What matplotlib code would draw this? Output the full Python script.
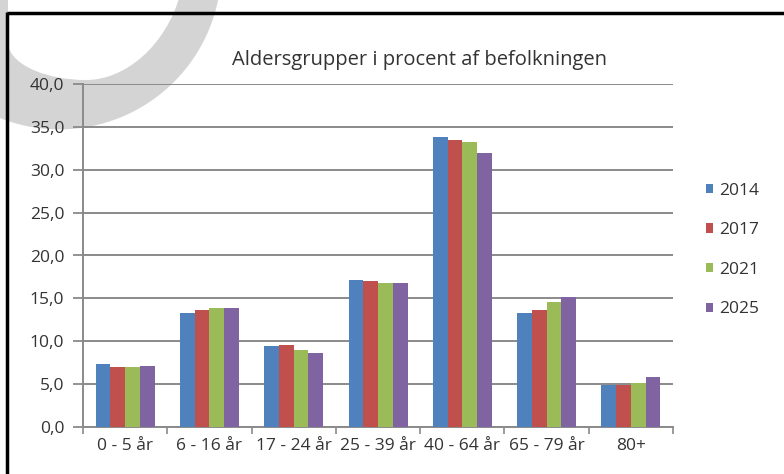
import matplotlib
matplotlib.use("Agg")
import matplotlib.pyplot as plt
import numpy as np
from matplotlib.patches import Circle, PathPatch, Patch
from matplotlib.path import Path

categories = ["0 - 5 år", "6 - 16 år", "17 - 24 år", "25 - 39 år", "40 - 64 år", "65 - 79 år", "80+"]
years = ["2014", "2017", "2021", "2025"]
v2014 = [7.4, 13.3, 9.5, 17.1, 33.8, 13.3, 4.9]
v2017 = [7.0, 13.6, 9.6, 17.0, 33.5, 13.6, 4.9]
v2021 = [7.0, 13.9, 9.0, 16.8, 33.2, 14.6, 5.1]
v2025 = [7.1, 13.9, 8.6, 16.8, 31.9, 15.2, 5.8]
series = [v2014, v2017, v2021, v2025]
colors = ["#4F81BD", "#C0504D", "#9BBB59", "#8064A2"]
yticks = [0, 5, 10, 15, 20, 25, 30, 35, 40]
title = "Aldersgrupper i procent af befolkningen"

plt.rcParams['font.family'] = ['Open Sans', 'DejaVu Sans']
txt = "#333333"

W, H = 784, 474
fig = plt.figure(figsize=(W / 100, H / 100), dpi=100)
fig.patch.set_facecolor("white")

# background overlay in pixel coordinates (watermark ring + frame)
bg = fig.add_axes([0, 0, 1, 1], zorder=0)
bg.set_xlim(0, W)
bg.set_ylim(H, 0)
bg.axis("off")
bg.add_patch(Circle((59.4, -32.6), 162, facecolor="#d4d4d4", edgecolor="none"))
verts = [(180, -5), (166, 45), (126, 80), (86, 80),
         (48, 80), (12, 66), (8, 45),
         (8, -5), (180, -5)]
codes = [Path.MOVETO, Path.CURVE4, Path.CURVE4, Path.CURVE4,
         Path.CURVE4, Path.CURVE4, Path.CURVE4,
         Path.LINETO, Path.CLOSEPOLY]
bg.add_patch(PathPatch(Path(verts, codes), facecolor="white", edgecolor="none"))
bg.plot([7, W], [12.5, 12.5], color="black", lw=2.5, solid_capstyle="butt")
bg.plot([7.5, 7.5], [11.5, H], color="black", lw=2.5, solid_capstyle="butt")

L, R, T, B = 83, 673, 84, 427
ax = fig.add_axes([L / W, 1 - B / H, (R - L) / W, (B - T) / H], zorder=2)
ax.set_facecolor("none")

x = np.arange(len(categories))
bw = 0.175
for i, (vals, c, yr) in enumerate(zip(series, colors, years)):
    ax.bar(x + (i - 1.5) * bw, vals, width=bw, color=c, label=yr, zorder=3)

ax.set_ylim(0, 40)
ax.set_xlim(-0.5, len(categories) - 0.5)
ax.set_yticks(yticks)
ax.set_yticklabels([f"{v:.1f}".replace(".", ",") for v in yticks], color=txt, fontsize=12.5)
ax.yaxis.grid(True, color="#8a8a8a", lw=1.4, zorder=0)
ax.set_axisbelow(True)
ax.tick_params(axis="y", length=7.5, width=1.3, color="#8a8a8a", pad=6)

ax.set_xticks(x)
ax.set_xticklabels(categories, color=txt, fontsize=12.5)
ax.set_xticks(np.arange(-0.5, len(categories), 1.0), minor=True)
ax.tick_params(axis="x", which="major", length=0, pad=8)
ax.tick_params(axis="x", which="minor", length=5, width=1.2, color="#8a8a8a")

for s in ["top", "right"]:
    ax.spines[s].set_visible(False)
for s in ["left", "bottom"]:
    ax.spines[s].set_color("#8a8a8a")
    ax.spines[s].set_linewidth(1.4)

fig.text(420 / W, 1 - 60 / H, title, ha="center", va="center", fontsize=14.5, color=txt)

handles = [Patch(facecolor=c, edgecolor="none") for c in colors]
fig.legend(handles, years, loc="upper left", bbox_to_anchor=(690 / W, 1 - 167 / H),
           frameon=False, fontsize=12.5, labelcolor=txt, handlelength=0.45,
           handleheight=0.45, handletextpad=0.35, labelspacing=1.36)

fig.savefig("out.png", dpi=100)
